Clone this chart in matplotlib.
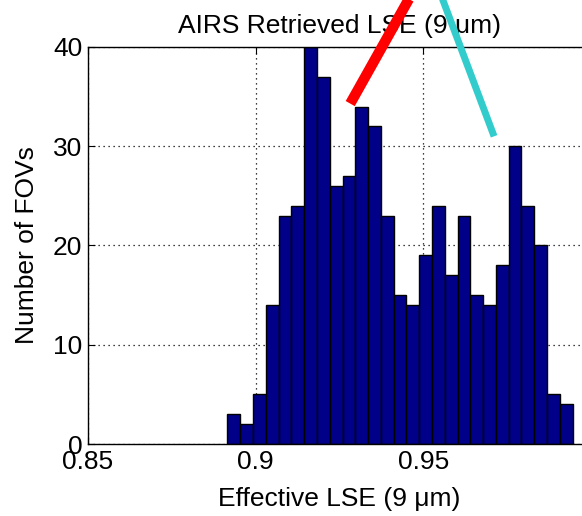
import numpy as np
import matplotlib
matplotlib.use("Agg")
import matplotlib.pyplot as plt

plt.rcParams['font.family'] = ['Liberation Sans', 'DejaVu Sans']

# histogram of effective LSE at 9 um
counts = [3, 2, 5, 14, 23, 24, 40, 37, 26, 27, 34, 32, 23, 15, 14, 19,
          24, 17, 23, 15, 14, 18, 30, 24, 20, 5, 4]
lse_min = 0.8916
lse_max = 0.9945

xticks = [0.85, 0.9, 0.95, 1.0]
xticklabels = ['0.85', '0.9', '0.95', '']
yticks = [0, 10, 20, 30, 40]

# pointer lines (lower end, upper end) in data units
red_line_x = [0.9282, 0.9493]
red_line_y = [34.3, 47.0]
cyan_line_x = [0.9711, 0.9533]
cyan_line_y = [31.0, 47.0]

edges = np.linspace(lse_min, lse_max, len(counts) + 1)
widths = np.diff(edges)

fig = plt.figure(figsize=(5.82, 5.16), dpi=100)
ax = fig.add_axes([88 / 582, 72 / 516, 503 / 582, 397 / 516])

ax.bar(edges[:-1], counts, width=widths, align='edge',
       color='#000088', edgecolor='black', linewidth=1.0, zorder=2)

ax.set_xlim(0.85, 1.0)
ax.set_ylim(0, 40)
ax.set_xticks(xticks)
ax.set_xticklabels(xticklabels)
ax.set_yticks(yticks)
ax.grid(True, linestyle=(0, (1, 3)), color='black', linewidth=0.9, zorder=1)
ax.set_axisbelow(True)
ax.tick_params(direction='in', length=5, labelsize=19, top=True, right=True, pad=4)

for sp in ax.spines.values():
    sp.set_linewidth(1.0)

ax.set_title('AIRS Retrieved LSE (9 μm)', fontsize=19, pad=10)
ax.set_xlabel('Effective LSE (9 μm)', fontsize=19, labelpad=10)
ax.set_ylabel('Number of FOVs', fontsize=19, labelpad=10)

ax.plot(red_line_x, red_line_y, color='#ff0000', linewidth=7.5,
        solid_capstyle='butt', clip_on=False, zorder=10)
ax.plot(cyan_line_x, cyan_line_y, color='#33cccc', linewidth=5,
        solid_capstyle='butt', clip_on=False, zorder=10)

fig.savefig('out.png', dpi=100)
